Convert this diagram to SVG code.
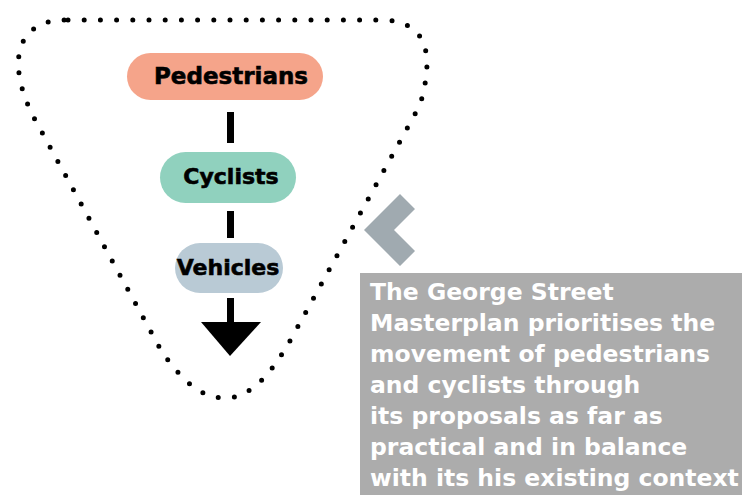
<svg xmlns="http://www.w3.org/2000/svg" width="742" height="495" viewBox="0 0 742 495">
<style>
.lbl{font-family:"DejaVu Sans","Liberation Sans",sans-serif;font-weight:bold;fill:#000;stroke:#000;stroke-width:0.6;text-anchor:middle}
.body{font-family:"DejaVu Sans","Liberation Sans",sans-serif;font-weight:bold;fill:#fff;font-size:23.5px}
.bar{fill:#000}
</style>
<rect width="742" height="495" fill="#fff"/>
<path d="M 68 20 L 380 20 C 425 20 436 50 420 105 L 296 330 C 272 375 250 398 225 398 C 200 398 182 380 162 352 L 38 125 C 15 85 10 45 35 28 C 45 21 55 20 68 20 Z" fill="none" stroke="#000" stroke-width="5" stroke-linecap="round" stroke-dasharray="0 16.2"/>
<g id="connectors">
<rect class="bar" x="227" y="112" width="7" height="31"/>
<rect class="bar" x="227" y="211" width="7" height="27"/>
<rect class="bar" x="227" y="298" width="7" height="26"/>
<polygon class="bar" points="201,322 261,322 230,356"/>
</g>
<g id="pedestrians">
<rect x="127" y="53" width="196" height="47" rx="23.5" fill="#f5a48a"/>
<text class="lbl" x="231" y="84" font-size="23">Pedestrians</text>
</g>
<g id="cyclists">
<rect x="160" y="152" width="136" height="51" rx="25.5" fill="#90d1be"/>
<text class="lbl" x="231" y="184" font-size="22">Cyclists</text>
</g>
<g id="vehicles">
<rect x="175" y="243" width="108" height="50" rx="25" fill="#b9cad5"/>
<text class="lbl" x="228" y="275" font-size="22">Vehicles</text>
</g>
<polygon id="chevron" points="400,194 415,209 394,230 415,251 400,266 364,230" fill="#a0aab0"/>
<g id="note">
<rect x="360" y="273" width="382" height="222" fill="#acacac"/>
<text class="body" x="370" y="300">The George Street</text>
<text class="body" x="370" y="331">Masterplan prioritises the</text>
<text class="body" x="370" y="362">movement of pedestrians</text>
<text class="body" x="370" y="393">and cyclists through</text>
<text class="body" x="370" y="424">its proposals as far as</text>
<text class="body" x="370" y="455">practical and in balance</text>
<text class="body" x="370" y="486">with its his existing context</text>
</g>
</svg>
